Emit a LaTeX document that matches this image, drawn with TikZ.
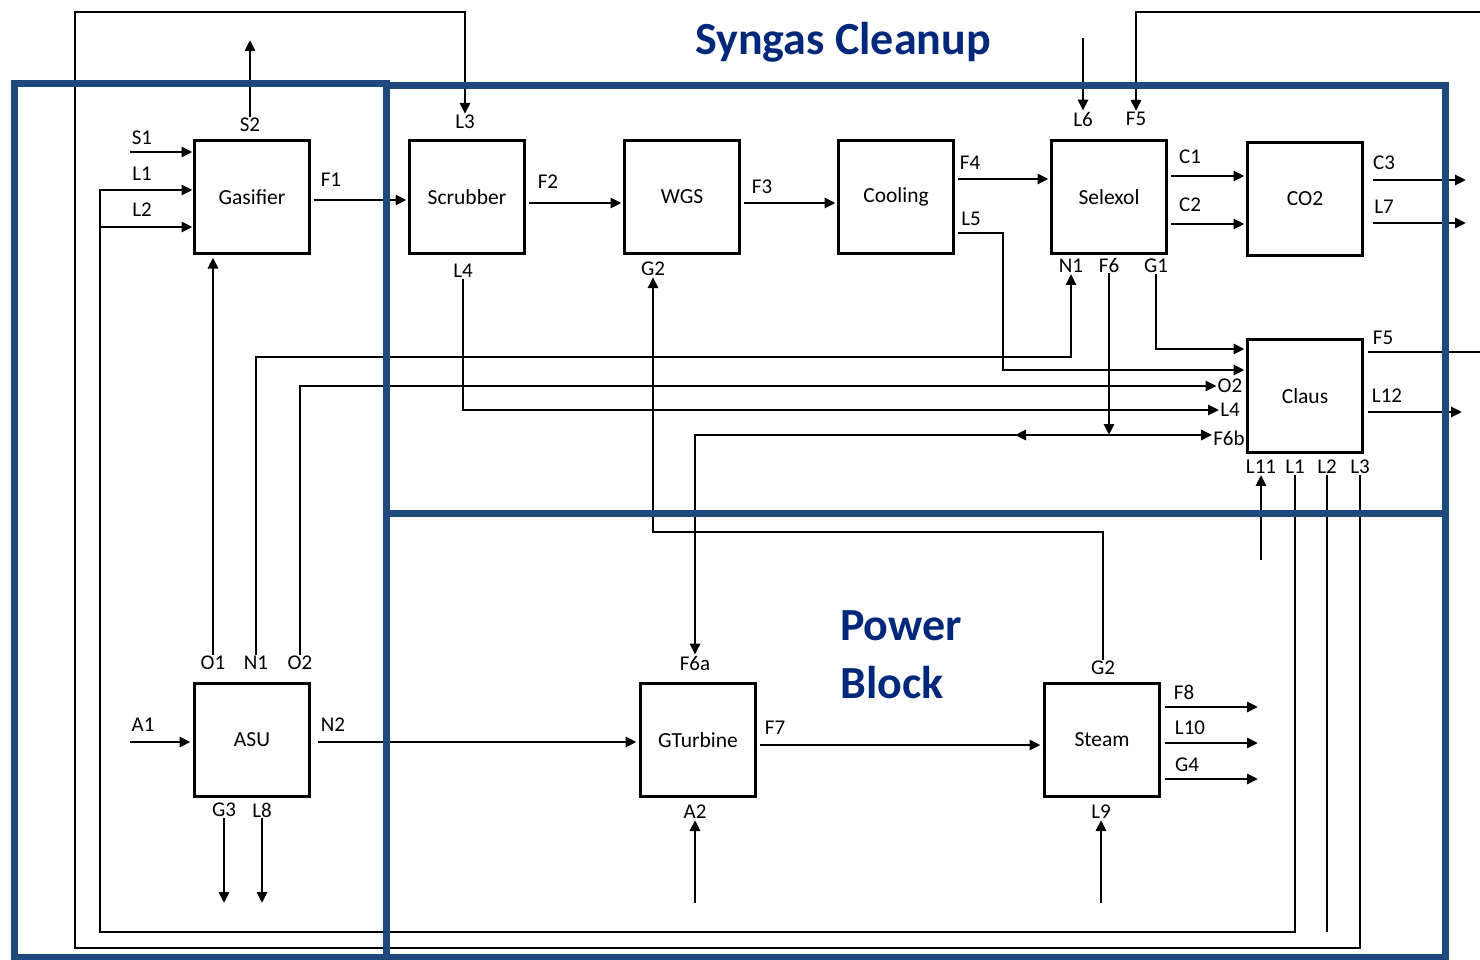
\documentclass[tikz,border=0pt]{standalone}
\usepackage{fontspec}
\setmainfont{Carlito}
\usetikzlibrary{arrows.meta,positioning}
\definecolor{frameblue}{RGB}{31,73,125}
\definecolor{titleblue}{RGB}{0,40,122}

\begin{document}
\begin{tikzpicture}[x=1pt,y=-1pt,
  unit/.style={draw,line width=3pt,minimum width=115pt,minimum height=113pt,
  inner sep=0pt,outer sep=0pt,font=\fontsize{21.5}{24}\selectfont},
  lbl/.style={inner sep=1pt,font=\fontsize{21}{24}\selectfont},
  arr/.style={-{Triangle[length=11pt,width=10pt]},line width=2.8pt},
  pipe/.style={line width=2.8pt},
  area/.style={draw=frameblue,line width=7pt},
  head/.style={text=titleblue,inner sep=0pt,font=\fontsize{46}{58}\selectfont\bfseries}]
\useasboundingbox (0,0) rectangle (1480,960);
% process units
\node[unit] (gas) at (252,197) {Gasifier};
\node[unit,right=100pt of gas] (scr) {Scrubber};
\node[unit,right=100pt of scr] (wgs) {WGS};
\node[unit,right=99pt of wgs] (cool) {Cooling};
\node[unit,right=98pt of cool] (sel) {Selexol};
\node[unit,right=81pt of sel,yshift=-2pt] (co2) {CO2};
\node[unit,below=84pt of co2] (claus) {Claus};
\node[unit] (asu) at (252,740) {ASU};
\node[unit,right=331pt of asu] (gt) {GTurbine};
\node[unit,right=289pt of gt] (stm) {Steam};
% stream labels
\node[lbl] (tS1) at (142,138) {S1};
\node[lbl] (tL1g) at (142,174) {L1};
\node[lbl] (tL2g) at (142,210) {L2};
\node[lbl] (tS2) at (250,125) {S2};
\node[lbl] (tF1) at (331,180) {F1};
\node[lbl] (tL3s) at (465,122) {L3};
\node[lbl] (tL4s) at (463,271) {L4};
\node[lbl] (tF2) at (548,182) {F2};
\node[lbl] (tG2w) at (653,269) {G2};
\node[lbl] (tF3) at (762,187) {F3};
\node[lbl] (tF4) at (970,163) {F4};
\node[lbl] (tL5) at (971,219) {L5};
\node[lbl] (tL6) at (1083,119) {L6};
\node[lbl] (tF5s) at (1136,119) {F5};
\node[lbl] (tN1s) at (1071,266) {N1};
\node[lbl] (tF6) at (1109,265) {F6};
\node[lbl] (tG1) at (1156,266) {G1};
\node[lbl] (tC1) at (1190,157) {C1};
\node[lbl] (tC2) at (1190,205) {C2};
\node[lbl] (tC3) at (1384,163) {C3};
\node[lbl] (tL7) at (1384,207) {L7};
\node[lbl] (tF5c) at (1383,338) {F5};
\node[lbl] (tL12) at (1387,396) {L12};
\node[lbl] (tO2c) at (1230,386) {O2};
\node[lbl] (tL4c) at (1230,410) {L4};
\node[lbl] (tF6b) at (1229,438) {F6b};
\node[lbl] (tL11) at (1261,467) {L11};
\node[lbl] (tL1c) at (1295,467) {L1};
\node[lbl] (tL2c) at (1327,467) {L2};
\node[lbl] (tL3c) at (1360,467) {L3};
\node[lbl] (tO1) at (213,663) {O1};
\node[lbl] (tN1a) at (256,663) {N1};
\node[lbl] (tO2a) at (300,663) {O2};
\node[lbl] (tA1) at (143,725) {A1};
\node[lbl] (tN2) at (333,725) {N2};
\node[lbl] (tG3) at (224,810) {G3};
\node[lbl] (tL8) at (262,810) {L8};
\node[lbl] (tF6a) at (695,663) {F6a};
\node[lbl] (tF7) at (775,728) {F7};
\node[lbl] (tA2) at (695,812) {A2};
\node[lbl] (tG2s) at (1103,668) {G2};
\node[lbl] (tF8) at (1184,692) {F8};
\node[lbl] (tL10) at (1190,728) {L10};
\node[lbl] (tG4) at (1187,765) {G4};
\node[lbl] (tL9) at (1101,812) {L9};
% free ends and corners
\coordinate (s1) at (130,152);
\coordinate (s2) at (250,40);
\coordinate (a1) at (130,742);
\coordinate (lp1) at (100,190);
\coordinate (lp2) at (100,227);
\coordinate (lret) at (100,932);
\coordinate (l3a) at (75,948);
\coordinate (l3b) at (75,12);
\coordinate (l6) at (1083,38);
\coordinate (f5a) at (1484,352);
\coordinate (f5b) at (1484,12);
\coordinate (c3) at (1466,180);
\coordinate (l7) at (1466,223);
\coordinate (l12) at (1462,412);
\coordinate (l5c) at (1003,370);
\coordinate (n1c) at (256,357);
\coordinate (g2c) at (1103,532);
\coordinate (f6j) at (1109,435);
\coordinate (f6m) at (1015,435);
\coordinate (g3) at (224,903);
\coordinate (l8) at (262,903);
\coordinate (a2) at (695,903);
\coordinate (l9) at (1101,903);
\coordinate (l11) at (1261,560);
\coordinate (f8) at (1258,707);
\coordinate (l10) at (1258,743);
\coordinate (g4) at (1258,779);
% gasifier and scrubber streams
\draw[arr,shorten >=2pt] (s1) -- (gas.west |- s1);
\draw[arr] (tS2.north) -- (s2);
\draw[arr,shorten >=2pt] (tL1c.south) |- (lret) -- (lp1) -- (gas.west |- lp1);
\draw[pipe] (tL2c.south) -- (tL2c.south |- lret);
\draw[arr,shorten >=2pt] (lp2) -- (gas.west |- lp2);
\draw[arr] (tL3c.south) |- (l3a) -- (l3b) -| (tL3s.north);
\draw[arr,shorten <=4pt,shorten >=3pt] ([yshift=-3pt]gas.east) -- ([yshift=-3pt]scr.west);
\draw[arr,shorten <=4pt,shorten >=3pt] ([yshift=-6pt]scr.east) -- ([yshift=-6pt]wgs.west);
\draw[arr,shorten <=4pt,shorten >=3pt] ([yshift=-6pt]wgs.east) -- ([yshift=-6pt]cool.west);
\draw[arr,shorten <=4pt,shorten >=3pt] ([yshift=18pt]cool.east) -- ([yshift=18pt]sel.west);
\draw[arr,shorten <=4pt,shorten >=3pt] ([yshift=-36pt]cool.east) -| (l5c) -- (claus.west |- l5c);
% selexol, co2 and claus streams
\draw[arr] (l6) -- (tL6.north);
\draw[arr,shorten <=5pt] (claus.east |- f5a) -- (f5a) -- (f5b) -| (tF5s.north);
\draw[arr,shorten <=4pt,shorten >=3pt] ([yshift=21pt]sel.east) -- ([yshift=23pt]co2.west);
\draw[arr,shorten <=4pt,shorten >=3pt] ([yshift=-27pt]sel.east) -- ([yshift=-25pt]co2.west);
\draw[arr,shorten <=10pt] (co2.east |- c3) -- (c3);
\draw[arr,shorten <=10pt] (co2.east |- l7) -- (l7);
\draw[arr,shorten <=5pt] (claus.east |- l12) -- (l12);
\draw[arr] (tL4s.south) |- (tL4c.west);
\draw[arr] (tO2a.north) |- (tO2c.west);
\draw[arr] (tN1a.north) -- (n1c) -| (tN1s.south);
\draw[arr,shorten >=4pt] (tO1.north) -- (gas.south -| tO1.north);
\draw[arr,shorten >=3pt] (tG1.south) |- ([yshift=47pt]claus.west);
\draw[arr] (tF6.south) -- (f6j);
\draw[arr] (f6j) -- (f6j -| tF6b.west);
\draw[arr] (f6j) -| (tF6a.north);
\draw[arr] (f6j) -- (f6m);
\draw[arr] (l11) -- (tL11.south);
% power block streams
\draw[arr] (tG2s.north) -- (g2c) -| (tG2w.south);
\draw[arr,shorten >=4pt] (a1) -- (asu.west |- a1);
\draw[arr,shorten <=8pt,shorten >=4pt] ([yshift=-2pt]asu.east) -- ([yshift=-2pt]gt.west);
\draw[arr] (tG3.south) -- (g3);
\draw[arr] (tL8.south) -- (l8);
\draw[arr] (a2) -- (tA2.south);
\draw[arr,shorten <=4pt,shorten >=4pt] ([yshift=-5pt]gt.east) -- ([yshift=-5pt]stm.west);
\draw[arr] (l9) -- (tL9.south);
\draw[arr,shorten <=5pt] (stm.east |- f8) -- (f8);
\draw[arr,shorten <=5pt] (stm.east |- l10) -- (l10);
\draw[arr,shorten <=5pt] (stm.east |- g4) -- (g4);
% section frames
\draw[area] (14,84) rectangle (386,957);
\draw[area] (386,86) rectangle (1445,513);
\draw[area] (386,513) rectangle (1445,957);
\node[head] (cleanup) at (843,42) {Syngas Cleanup};
\node[head,align=left,anchor=north west] (power) at (840,610) {Power\\Block};
\end{tikzpicture}
\end{document}
